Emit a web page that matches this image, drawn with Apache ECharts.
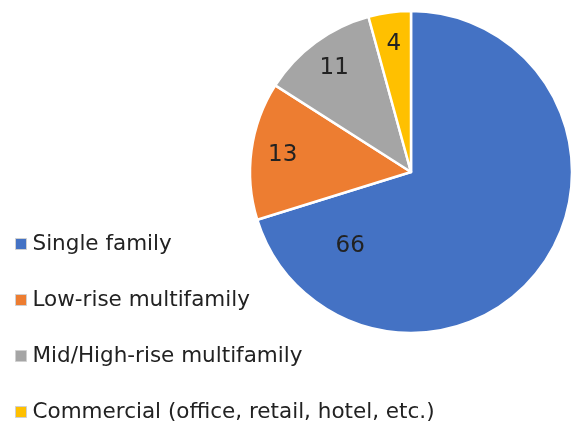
<!DOCTYPE html>
<html>
<head>
<meta charset="utf-8">
<script src="https://cdn.jsdelivr.net/npm/echarts@6/dist/echarts.min.js"></script>
<style>
  html, body { margin: 0; padding: 0; background: #fff; }
  #chart { width: 573px; height: 430px; }
</style>
</head>
<body>
<div id="chart"></div>
<script>
const categories = ['Single family', 'Low-rise multifamily', 'Mid/High-rise multifamily', 'Commercial (office, retail, hotel, etc.)']
const values = [66, 13, 11, 4]
const colors = ['#4472C4', '#ED7D31', '#A5A5A5', '#FFC000']

const FONT = 'DejaVu Sans'
const chart = echarts.init(document.getElementById('chart'))

const pieData = categories.map((name, i) => ({
  name: name,
  value: values[i],
  itemStyle: { color: colors[i] }
}))

// label ring: transparent copy so labels sit nearer the rim
const labelData = categories.map((name, i) => {
  const item = { name: name, value: values[i] }
  if (i === 0) item.label = { offset: [-165, -3] }
  return item
})

chart.setOption({
  animation: false,
  legend: {
    orient: 'vertical',
    left: 15,
    top: 233,
    height: 197,
    padding: 0,
    itemWidth: 11,
    itemHeight: 11,
    itemGap: 34,
    icon: 'rect',
    itemStyle: { borderColor: '#d0d0d0', borderWidth: 1 },
    textStyle: { fontFamily: FONT, fontSize: 21.5, lineHeight: 22, color: '#222', padding: [0, 0, 0, 1] },
    data: categories
  },
  series: [
    {
      type: 'pie',
      center: [411, 172],
      radius: [0, 161],
      startAngle: 90,
      clockwise: true,
      silent: true,
      label: { show: false },
      labelLine: { show: false },
      itemStyle: { borderColor: '#fff', borderWidth: 2.5 },
      data: pieData
    },
    {
      type: 'pie',
      center: [411, 172],
      radius: [92, 161],
      startAngle: 90,
      clockwise: true,
      silent: true,
      legendHoverLink: false,
      itemStyle: { color: 'rgba(0,0,0,0)' },
      label: {
        show: true,
        position: 'inside',
        formatter: '{c}',
        fontFamily: FONT,
        fontSize: 23,
        color: '#222'
      },
      labelLine: { show: false },
      data: labelData
    }
  ]
})
</script>
</body>
</html>
